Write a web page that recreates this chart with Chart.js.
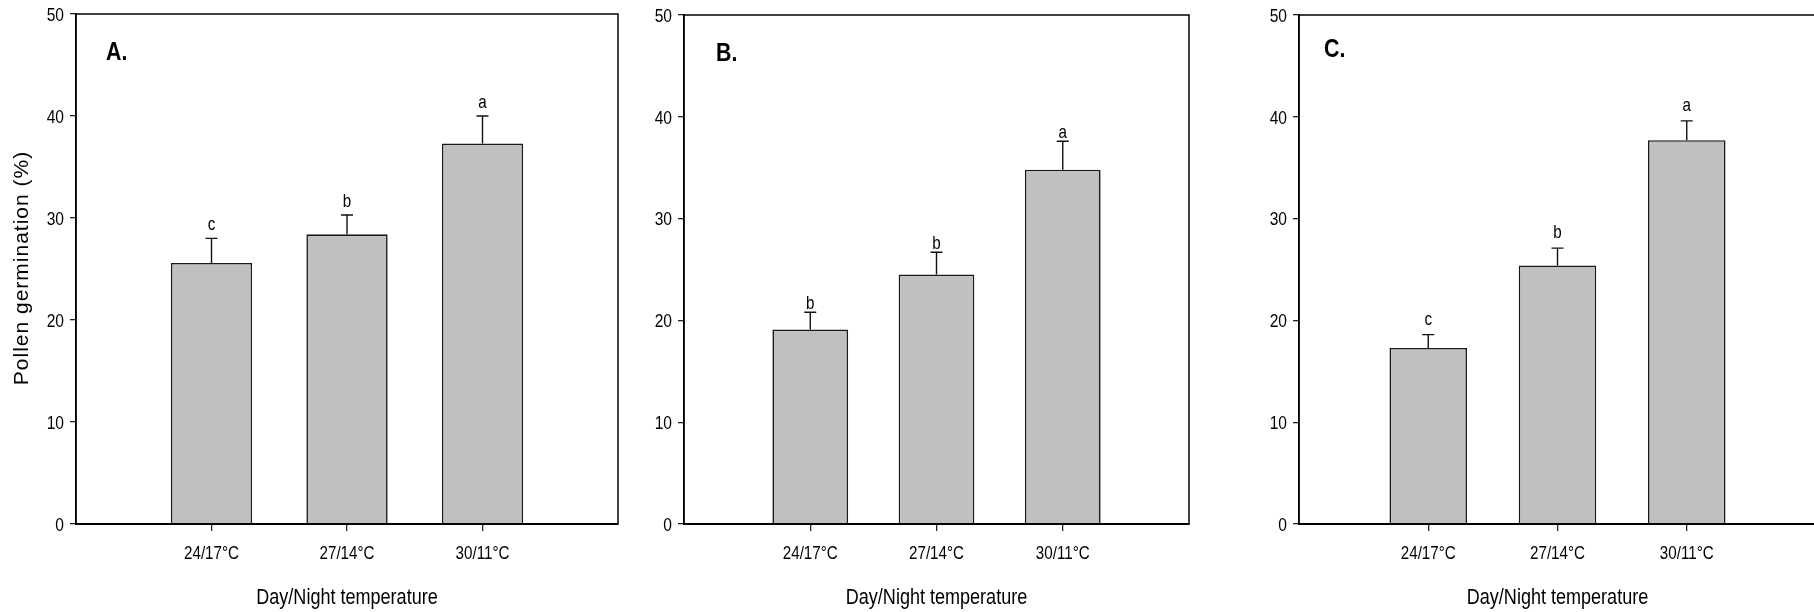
<!DOCTYPE html>
<html>
<head>
<meta charset="utf-8">
<script src="https://cdn.jsdelivr.net/npm/chart.js@4.4.0/dist/chart.umd.min.js"></script>
<style>
  html, body { margin: 0; padding: 0; background: #fff; }
  body { width: 1814px; height: 612px; overflow: hidden; position: relative; }
  canvas { position: absolute; top: 0; }
</style>
</head>
<body>
<canvas id="panelA" width="640" height="630" style="left:0px"></canvas>
<canvas id="panelB" width="575" height="630" style="left:644px"></canvas>
<canvas id="panelC" width="567" height="630" style="left:1259px"></canvas>
<script>
const temps = ['24/17°C', '27/14°C', '30/11°C'];
const yTicks = [0, 10, 20, 30, 40, 50];

const germA = [25.6, 28.4, 37.3];
const errA = [2.4, 1.9, 2.7];
const lettersA = ['c', 'b', 'a'];

const germB = [19.1, 24.5, 34.8];
const errB = [1.7, 2.2, 2.8];
const lettersB = ['b', 'b', 'a'];

const germC = [17.3, 25.4, 37.7];
const errC = [1.3, 1.7, 1.9];
const lettersC = ['c', 'b', 'a'];

const SANS = '"Liberation Sans", Arial, sans-serif';

// no narrow face installed, so squeeze Liberation Sans horizontally
function narrowText(ctx, text, x, y, size, align, bold) {
    ctx.save();
    ctx.translate(x, y);
    ctx.scale(0.82, 1);
    ctx.font = (bold ? 'bold ' : '') + size + 'px ' + SANS;
    ctx.textAlign = align;
    ctx.textBaseline = 'alphabetic';
    ctx.fillStyle = '#000';
    ctx.fillText(text, 0, 0);
    ctx.restore();
}

// frame, tick labels, titles, error bars, letters and panel tag
const extras = {
    id: 'extras',
    afterDatasetsDraw(chart, args, opts) {
        const ctx = chart.ctx;
        const xs = chart.scales.x, ys = chart.scales.y, a = chart.chartArea;
        ctx.save();
        ctx.strokeStyle = '#000';
        ctx.lineWidth = 1.5;
        ctx.strokeRect(a.left, a.top, a.right - a.left, a.bottom - a.top);

        yTicks.forEach(function (v) {
            narrowText(ctx, String(v), a.left - 12, ys.getPixelForValue(v) + 6.8, 19, 'right');
        });
        temps.forEach(function (t, i) {
            narrowText(ctx, t, xs.getPixelForValue(i + 1), a.bottom + 35, 18.5, 'center');
        });
        narrowText(ctx, 'Day/Night temperature', (a.left + a.right) / 2, a.bottom + 79.5, 22, 'center');

        if (opts.yTitle) {
            ctx.save();
            ctx.translate(28, (a.top + a.bottom) / 2 - 1);
            ctx.rotate(-Math.PI / 2);
            ctx.font = '21px ' + SANS;
            ctx.letterSpacing = '1px';
            ctx.fillStyle = '#000';
            ctx.textAlign = 'left';
            ctx.textBaseline = 'alphabetic';
            const w = ctx.measureText(opts.yTitle).width;
            ctx.fillText(opts.yTitle, -w / 2, 0);
            ctx.restore();
        }

        ctx.strokeStyle = '#111';
        ctx.lineWidth = 1.4;
        opts.means.forEach(function (m, i) {
            const px = xs.getPixelForValue(i + 1);
            const y0 = ys.getPixelForValue(m);
            const y1 = ys.getPixelForValue(m + opts.errs[i]);
            ctx.beginPath();
            ctx.moveTo(px, y0);
            ctx.lineTo(px, y1);
            ctx.moveTo(px - 6, y1);
            ctx.lineTo(px + 6, y1);
            ctx.stroke();
            narrowText(ctx, opts.letters[i], px, y1 - opts.gap, 18.5, 'center');
        });

        narrowText(ctx, opts.tag, a.left + opts.tagX, a.top + opts.tagY, 26, 'left', true);
        ctx.restore();
    }
};

function makeChart(id, means, errs, letters, panel) {
    const ctx = document.getElementById(id);
    return new Chart(ctx, {
        type: 'bar',
        data: {
            datasets: [{
                data: means.map(function (v, i) { return { x: i + 1, y: v }; }),
                backgroundColor: '#c0c0c0',
                borderColor: '#1a1a1a',
                borderWidth: 1.6,
                barPercentage: 0.6,
                categoryPercentage: 1
            }]
        },
        options: {
            responsive: false,
            animation: false,
            events: [],
            layout: { padding: { left: 0, top: panel.top, right: panel.right, bottom: 0 } },
            plugins: {
                legend: { display: false },
                tooltip: { enabled: false },
                extras: {
                    means: means, errs: errs, letters: letters, yTitle: panel.yTitle,
                    tag: panel.tag, tagX: panel.tagX, tagY: panel.tagY, gap: panel.gap
                }
            },
            scales: {
                x: {
                    type: 'linear',
                    min: 0,
                    max: 4,
                    offset: false,
                    afterBuildTicks: function (scale) {
                        scale.ticks = temps.map(function (t, i) { return { value: i + 1 }; });
                    },
                    afterFit: function (scale) { scale.height = 106; },
                    ticks: { display: false },
                    grid: { offset: false, drawOnChartArea: false, drawTicks: true, tickLength: 7, color: '#222', lineWidth: 1.3 },
                    border: { display: true, color: '#000', width: 2 }
                },
                y: {
                    min: 0,
                    max: 50,
                    afterBuildTicks: function (scale) {
                        scale.ticks = yTicks.map(function (v) { return { value: v }; });
                    },
                    afterFit: function (scale) { scale.width = panel.yWidth; },
                    ticks: { display: false },
                    grid: { drawOnChartArea: false, drawTicks: true, tickLength: 6, color: '#222', lineWidth: 1.3 },
                    border: { display: true, color: '#000', width: 1.5 }
                }
            }
        },
        plugins: [extras]
    });
}

makeChart('panelA', germA, errA, lettersA,
    { tag: 'A.', top: 14, right: 22, yWidth: 76, yTitle: 'Pollen germination (%)', tagX: 30, tagY: 46, gap: 8 });
makeChart('panelB', germB, errB, lettersB,
    { tag: 'B.', top: 15, right: 30, yWidth: 40, yTitle: '', tagX: 32, tagY: 46, gap: 3 });
makeChart('panelC', germC, errC, lettersC,
    { tag: 'C.', top: 15, right: 10, yWidth: 40, yTitle: '', tagX: 25, tagY: 42, gap: 10 });
</script>
</body>
</html>
